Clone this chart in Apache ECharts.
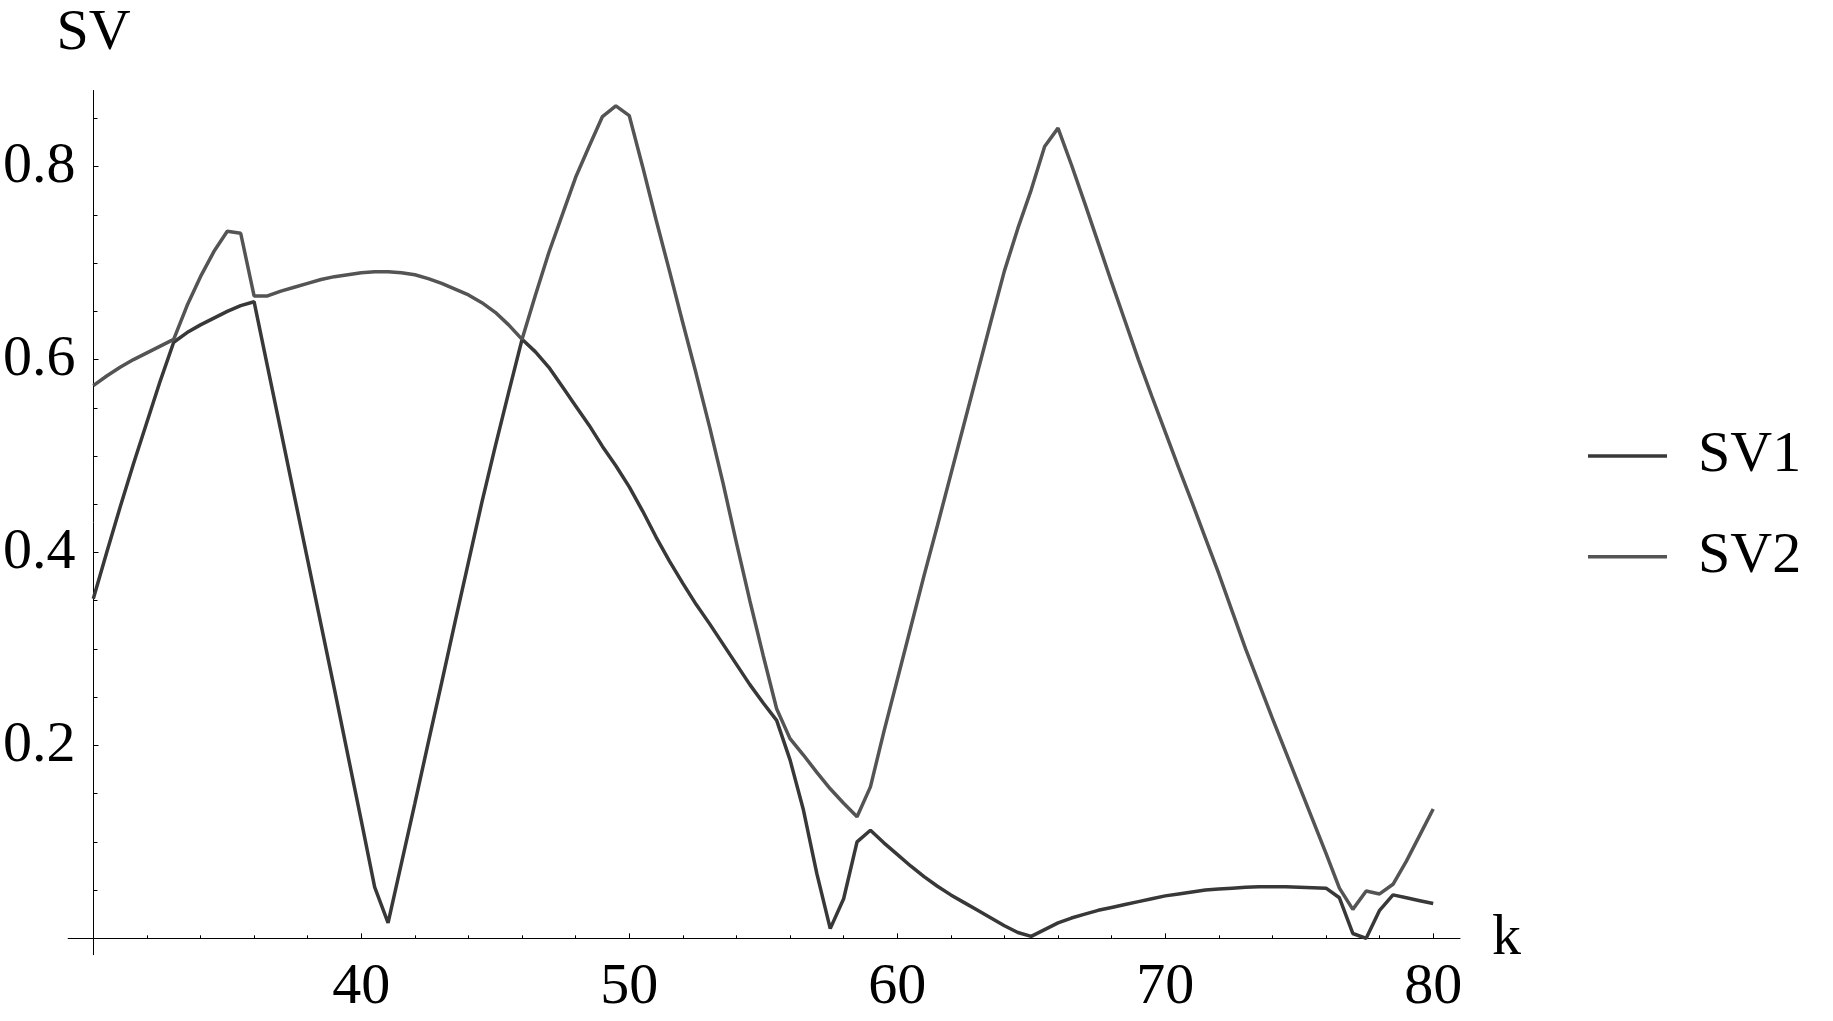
<!DOCTYPE html>
<html>
<head>
<meta charset="utf-8">
<title>SV</title>
<script src="https://cdn.jsdelivr.net/npm/echarts@6.0.0/dist/echarts.min.js"></script>
<style>
  html, body { margin: 0; padding: 0; background: #fff; }
  #main { width: 1833px; height: 1021px; }
</style>
</head>
<body>
<div id="main"></div>
<script>
// sample points k (step 0.5)
var kValues = [
  30, 30.5, 31, 31.5, 32, 32.5, 33, 33.5, 34, 34.5, 35, 35.5, 36, 36.5, 37, 37.5, 38, 38.5, 39, 39.5,
  40, 40.5, 41, 41.5, 42, 42.5, 43, 43.5, 44, 44.5, 45, 45.5, 46, 46.5, 47, 47.5, 48, 48.5, 49, 49.5,
  50, 50.5, 51, 51.5, 52, 52.5, 53, 53.5, 54, 54.5, 55, 55.5, 56, 56.5, 57, 57.5, 58, 58.5, 59, 59.5,
  60, 60.5, 61, 61.5, 62, 62.5, 63, 63.5, 64, 64.5, 65, 65.5, 66, 66.5, 67, 67.5, 68, 68.5, 69, 69.5,
  70, 70.5, 71, 71.5, 72, 72.5, 73, 73.5, 74, 74.5, 75, 75.5, 76, 76.5, 77, 77.5, 78, 78.5, 79, 79.5,
  80
];

var sv1Values = [
  0.352, 0.400, 0.447, 0.492, 0.535, 0.578, 0.618, 0.628, 0.636, 0.643, 0.650, 0.656, 0.660, 0.593, 0.526, 0.459, 0.392, 0.325, 0.258, 0.190,
  0.122, 0.053, 0.016, 0.078, 0.140, 0.203, 0.265, 0.328, 0.390, 0.452, 0.510, 0.566, 0.621, 0.608, 0.592, 0.572, 0.552, 0.532, 0.510, 0.490,
  0.468, 0.443, 0.416, 0.391, 0.368, 0.346, 0.326, 0.305, 0.284, 0.263, 0.244, 0.226, 0.185, 0.133, 0.067, 0.010, 0.041, 0.100, 0.112, 0.099,
  0.087, 0.075, 0.064, 0.054, 0.045, 0.037, 0.029, 0.021, 0.013, 0.006, 0.002, 0.009, 0.016, 0.021, 0.025, 0.029, 0.032, 0.035, 0.038, 0.041,
  0.044, 0.046, 0.048, 0.050, 0.051, 0.052, 0.053, 0.0535, 0.0535, 0.0535, 0.053, 0.0525, 0.052, 0.042, 0.005, 0.000, 0.029, 0.045, 0.042, 0.039,
  0.036
];

var sv2Values = [
  0.573, 0.583, 0.592, 0.600, 0.607, 0.614, 0.621, 0.656, 0.686, 0.712, 0.733, 0.731, 0.666, 0.666, 0.671, 0.675, 0.679, 0.683, 0.686, 0.688,
  0.690, 0.691, 0.691, 0.690, 0.688, 0.684, 0.679, 0.673, 0.667, 0.659, 0.649, 0.636, 0.621, 0.667, 0.711, 0.750, 0.789, 0.821, 0.852, 0.863,
  0.853, 0.800, 0.745, 0.692, 0.638, 0.585, 0.530, 0.472, 0.410, 0.350, 0.293, 0.238, 0.207, 0.190, 0.172, 0.155, 0.140, 0.126, 0.157, 0.214,
  0.268, 0.322, 0.376, 0.428, 0.481, 0.534, 0.587, 0.640, 0.692, 0.736, 0.776, 0.821, 0.840, 0.802, 0.762, 0.721, 0.680, 0.640, 0.600, 0.562,
  0.525, 0.488, 0.452, 0.415, 0.378, 0.339, 0.300, 0.264, 0.228, 0.193, 0.158, 0.123, 0.088, 0.052, 0.030, 0.049, 0.046, 0.056, 0.080, 0.107,
  0.134
];

var xTickLabels = [40, 50, 60, 70, 80];
var xMinorTicks = [32, 34, 36, 38, 42, 44, 46, 48, 52, 54, 56, 58, 62, 64, 66, 68, 72, 74, 76, 78];
var yTickLabels = [0.2, 0.4, 0.6, 0.8];
var yMinorTicks = [0.05, 0.1, 0.15, 0.25, 0.3, 0.35, 0.45, 0.5, 0.55, 0.65, 0.7, 0.75, 0.85];

function handleDom() {
  var chartDom = document.getElementById("main");
  var myChart = echarts.init(chartDom);
  var option;

  var font = '"Liberation Serif", "Times New Roman", serif';
  var fontSize = 58;
  var xMin = 29.06, xMax = 81;
  var yMin = -0.017, yMax = 0.879;

  option = {
    animation: false,
    backgroundColor: "#ffffff",
    legend: {
      orient: "vertical",
      left: 1588,
      top: 426,
      padding: 0,
      itemGap: 40.7,
      itemWidth: 79,
      itemHeight: 3.5,
      icon: "rect",
      data: ["SV1", "SV2"],
      textStyle: {
        fontFamily: font,
        fontSize: fontSize,
        color: "#000",
        lineHeight: 60,
        padding: [0, 0, 0, 26],
      },
    },
    grid: { left: 61, right: 373, top: 90.5, bottom: 66.3 },
    xAxis: [
      {
        type: "value",
        min: xMin,
        max: xMax,
        name: "k",
        nameLocation: "end",
        nameGap: 32,
        nameTextStyle: { fontFamily: font, fontSize: fontSize, color: "#000", padding: [12, 0, 0, 0] },
        axisLine: { onZero: true, onZeroAxisIndex: 0, lineStyle: { color: "#000", width: 1 } },
        axisTick: { inside: true, length: 5, customValues: xTickLabels, lineStyle: { color: "#000", width: 1 } },
        axisLabel: { customValues: xTickLabels, margin: 4, fontFamily: font, fontSize: fontSize, color: "#000" },
        splitLine: { show: false },
      },
      {
        type: "value",
        min: xMin,
        max: xMax,
        position: "bottom",
        axisLine: { show: false, onZero: true, onZeroAxisIndex: 0 },
        axisTick: { inside: true, length: 3, customValues: xMinorTicks, lineStyle: { color: "#000", width: 1 } },
        axisLabel: { show: false },
        splitLine: { show: false },
      },
    ],
    yAxis: [
      {
        type: "value",
        min: yMin,
        max: yMax,
        position: "left",
        offset: -25.4,
        name: "SV",
        nameLocation: "end",
        nameGap: 28,
        nameTextStyle: { fontFamily: font, fontSize: fontSize, color: "#000", align: "center" },
        axisLine: { onZero: false, lineStyle: { color: "#000", width: 1 } },
        axisTick: { inside: true, length: 5, customValues: yTickLabels, lineStyle: { color: "#000", width: 1 } },
        axisLabel: {
          customValues: yTickLabels,
          margin: 18,
          fontFamily: font,
          fontSize: fontSize,
          color: "#000",
          formatter: function (v) { return v.toFixed(1); },
        },
        splitLine: { show: false },
      },
      {
        type: "value",
        min: yMin,
        max: yMax,
        position: "left",
        offset: -25.4,
        axisLine: { show: false, onZero: false },
        axisTick: { inside: true, length: 4, customValues: yMinorTicks, lineStyle: { color: "#000", width: 1 } },
        axisLabel: { show: false },
        splitLine: { show: false },
      },
    ],
    series: [
      {
        name: "SV1",
        type: "line",
        xAxisIndex: 0,
        yAxisIndex: 0,
        showSymbol: false,
        symbol: "none",
        color: "#383838",
        lineStyle: { color: "#383838", width: 3.5 },
        data: kValues.map(function (k, i) { return [k, sv1Values[i]]; }),
      },
      {
        name: "SV2",
        type: "line",
        xAxisIndex: 0,
        yAxisIndex: 0,
        showSymbol: false,
        symbol: "none",
        color: "#545454",
        lineStyle: { color: "#545454", width: 3.5 },
        data: kValues.map(function (k, i) { return [k, sv2Values[i]]; }),
      },
    ],
  };
  myChart.setOption(option);
}
handleDom();
</script>
</body>
</html>
